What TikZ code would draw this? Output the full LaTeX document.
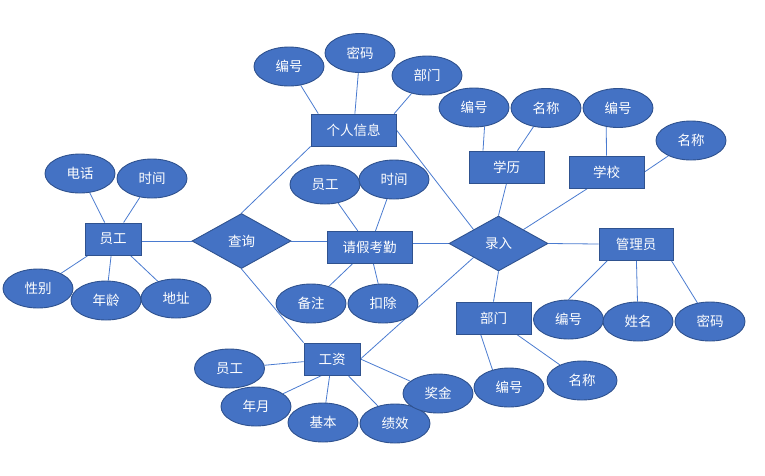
\documentclass[tikz,border=0pt]{standalone}
\usepackage{fontspec}
\setmainfont{Noto Sans CJK SC}
\usetikzlibrary{shapes.geometric,backgrounds}
\definecolor{erfill}{HTML}{4472C4}
\definecolor{erdraw}{HTML}{2F528F}
\definecolor{erline}{HTML}{4A7BD0}
\def\txtsize{\fontsize{13.5}{16}\selectfont}
\def\lw{0.9pt}

\begin{document}
\begin{tikzpicture}[x=1pt,y=-1pt,
    entity/.style={draw=erdraw, fill=erfill, text=white, font=\txtsize,
        line width=\lw, minimum height=32pt, inner sep=0pt},
    relation/.style={diamond, draw=erdraw, fill=erfill, text=white, font=\txtsize,
        line width=\lw, minimum width=99pt, minimum height=55pt, inner sep=0pt},
    attr/.style={ellipse, draw=erdraw, fill=erfill, text=white, font=\txtsize,
        line width=\lw, minimum width=70pt, minimum height=39pt, inner sep=0pt},
    link/.style={draw=erline, line width=0.8pt}]
  \useasboundingbox (0,0) rectangle (765,475);

  % entities and relations
  \node[entity, minimum width=85pt](grxx) at(353.5,130){个人信息};
  \node[entity, minimum width=56pt](yg)   at(113,239){员工};
  \node[relation](cx) at(241.5,241){查询};
  \node[entity, minimum width=85pt](qjkq) at(369.5,247.5){请假考勤};
  \node[relation](lr) at(498.5,243.5){录入};
  \node[entity, minimum width=75pt](xl)   at(506.5,167){学历};
  \node[entity, minimum width=75pt](xx)   at(606.5,172){学校};
  \node[entity, minimum width=74pt](gly)  at(636,244){管理员};
  \node[entity, minimum width=75pt](bm)   at(493.5,318){部门};
  \node[entity, minimum width=56pt](gz)   at(332,359){工资};

  % attributes
  \node[attr](grxxbh) at(289,66.5){编号};
  \node[attr](grxxmm) at(360,53){密码};
  \node[attr](grxxbm) at(427,75.5){部门};

  \node[attr](ygdh) at(80,173.5){电话};
  \node[attr](ygsj) at(152,178.5){时间};
  \node[attr](ygxb) at(38,288.5){性别};
  \node[attr](ygnl) at(106,300.5){年龄};
  \node[attr](ygdz) at(176,298.5){地址};

  \node[attr](qjyg) at(325,184.5){员工};
  \node[attr](qjsj) at(394,179.5){时间};
  \node[attr](qjbz) at(311,303.5){备注};
  \node[attr](qjkc) at(383,303.5){扣除};

  \node[attr](xlbh) at(474,107.5){编号};
  \node[attr](xlmc) at(546,108){名称};
  \node[attr](xxbh) at(618,108){编号};
  \node[attr](xxmc) at(691,140.5){名称};

  \node[attr](glybh) at(568.5,319.5){编号};
  \node[attr](glyxm) at(638,321.5){姓名};
  \node[attr](glymm) at(710,321.5){密码};

  \node[attr](bmbh) at(509,387.5){编号};
  \node[attr](bmmc) at(582,380.5){名称};

  \node[attr](gzyg) at(229.5,368.5){员工};
  \node[attr](gzny) at(256,406.5){年月};
  \node[attr](gzjb) at(323,422.5){基本};
  \node[attr](gzjx) at(395,423.5){绩效};
  \node[attr](gzjj) at(438,393.5){奖金};

  \begin{scope}[on background layer]
    % relation links
    \draw[link] (cx.west) -- (cx.west -| yg.east);
    \draw[link] (cx.east) -- (cx.east -| qjkq.west);
    \draw[link] (lr.west) -- (lr.west -| qjkq.east);
    \draw[link] (grxx.south west) -- (cx.north);
    \draw[link] (cx.south) -- (gz.north west);
    \draw[link] (grxx.east) -- (lr.north west);
    \draw[link] (xl.south) -- (lr.north);
    \draw[link] (xx.221) -- (lr.north east);
    \draw[link] (lr.east) -- (gly.west);
    \draw[link] (lr.south) -- (bm.north);
    \draw[link] (lr.south west) -- (gz.east);

    % attribute links
    \draw[link] (grxx.155) -- (grxxbh);
    \draw[link] (grxx) -- (grxxmm);
    \draw[link] (grxx.22) -- (grxxbm);
    \foreach \a in {ygdh,ygsj,ygxb,ygnl,ygdz}
      \draw[link] (yg) -- (\a);
    \foreach \a in {qjyg,qjsj,qjbz,qjkc}
      \draw[link] (qjkq) -- (\a);
    \draw[link] (xl.145) -- (xlbh.299);
    \draw[link] (xl) -- (xlmc);
    \draw[link] (xx.north) -- (xxbh.238);
    \draw[link] (xx.east) -- (xxmc);
    \draw[link] (gly.210) -- (glybh.north);
    \draw[link] (gly) -- (glyxm);
    \draw[link] (gly.335) -- (glymm.124);
    \draw[link] (bm.232) -- (bmbh.133);
    \draw[link] (bm) -- (bmmc);
    \draw[link] (gz) -- (gzyg);
    \draw[link] (gz.238) -- (gzny);
    \draw[link] (gz) -- (gzjb);
    \draw[link] (gz) -- (gzjx);
    \draw[link] (gz.east) -- (gzjj);
  \end{scope}
\end{tikzpicture}
\end{document}
